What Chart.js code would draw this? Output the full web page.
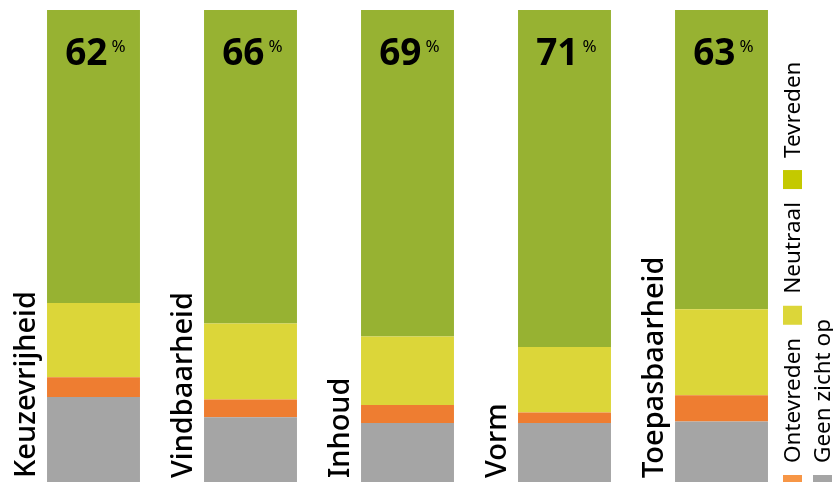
<!DOCTYPE html>
<html>
<head>
<meta charset="utf-8">
<script src="https://cdn.jsdelivr.net/npm/chart.js@4"></script>
<style>
  html, body { margin: 0; padding: 0; background: #fff; }
  #wrap { width: 833px; height: 482px; }
</style>
</head>
<body>
<div id="wrap"><canvas id="satChart"></canvas></div>
<script>
// data (percent per category, bottom to top)
const categories = ['Keuzevrijheid', 'Vindbaarheid', 'Inhoud', 'Vorm', 'Toepasbaarheid'];
const geenZicht  = [18.0, 13.7, 12.5, 12.5, 12.8];
const ontevreden = [4.2, 3.8, 3.8, 2.2, 5.6];
const neutraal   = [15.7, 16.1, 14.5, 13.9, 18.2];
const tevreden   = [62.1, 66.4, 69.2, 71.4, 63.4];

const legendLabels = ['Ontevreden', 'Neutraal', 'Tevreden', 'Geen zicht op'];
const legendColors = ['#f79646', '#dcd639', '#c4c900', '#a5a5a5'];

const FONT = '"Noto Sans", sans-serif';

// draws the % labels, the rotated category names and the rotated legend
const overlay = {
    id: 'overlay',
    afterDatasetsDraw(chart) {
        const ctx = chart.ctx;
        const topMeta = chart.getDatasetMeta(3);
        const baseMeta = chart.getDatasetMeta(0);

        // big percentages at top of the green part
        topMeta.data.forEach((bar, i) => {
            ctx.save();
            ctx.fillStyle = '#000';
            ctx.textBaseline = 'alphabetic';
            ctx.font = 'bold 37px ' + FONT;
            ctx.textAlign = 'right';
            ctx.fillText(String(Math.round(tevreden[i])), bar.x + 14, bar.y + 55);
            ctx.font = '17px ' + FONT;
            ctx.textAlign = 'left';
            ctx.fillText('%', bar.x + 18, bar.y + 42);
            ctx.restore();
        });

        // category names, rotated, left of each bar
        baseMeta.data.forEach((bar, i) => {
            const left = bar.x - bar.width / 2;
            ctx.save();
            ctx.translate(left - 12, chart.chartArea.bottom - 4);
            ctx.rotate(-Math.PI / 2);
            ctx.fillStyle = '#000';
            ctx.font = '500 29px ' + FONT;
            ctx.textAlign = 'left';
            ctx.textBaseline = 'alphabetic';
            ctx.fillText(categories[i], 0, 0);
            ctx.restore();
        });

        // legend, rotated, in two rows on the right
        ctx.save();
        ctx.translate(0, chart.height);
        ctx.rotate(-Math.PI / 2);
        ctx.font = '22.5px ' + FONT;
        ctx.textBaseline = 'alphabetic';
        ctx.textAlign = 'left';
        const rows = [[0, 1, 2], [3]];
        const rowV = [783, 813];
        rows.forEach((items, r) => {
            let u = -12;
            items.forEach(idx => {
                ctx.fillStyle = legendColors[idx];
                ctx.fillRect(u, rowV[r], 19, 19);
                u += 19 + 12;
                ctx.fillStyle = '#000';
                ctx.fillText(legendLabels[idx], u, rowV[r] + 17);
                u += ctx.measureText(legendLabels[idx]).width + 13;
            });
        });
        ctx.restore();
    }
};

const ctx = document.getElementById('satChart').getContext('2d');
const satChart = new Chart(ctx, {
    type: 'bar',
    data: {
        labels: categories,
        datasets: [
            { label: 'Geen zicht op', data: geenZicht, backgroundColor: '#a5a5a5' },
            { label: 'Ontevreden', data: ontevreden, backgroundColor: '#ee7d31' },
            { label: 'Neutraal', data: neutraal, backgroundColor: '#dcd639' },
            { label: 'Tevreden', data: tevreden, backgroundColor: '#97b232' }
        ]
    },
    options: {
        responsive: true,
        maintainAspectRatio: false,
        animation: false,
        layout: { padding: { left: 15, right: 33, top: 10, bottom: 0 } },
        datasets: { bar: { barPercentage: 0.592, categoryPercentage: 1, borderWidth: 0 } },
        scales: {
            x: { stacked: true, display: false },
            y: { stacked: true, display: false, min: 0, max: 100 }
        },
        plugins: {
            legend: { display: false },
            tooltip: { enabled: false }
        }
    },
    plugins: [overlay]
});
</script>
</body>
</html>
